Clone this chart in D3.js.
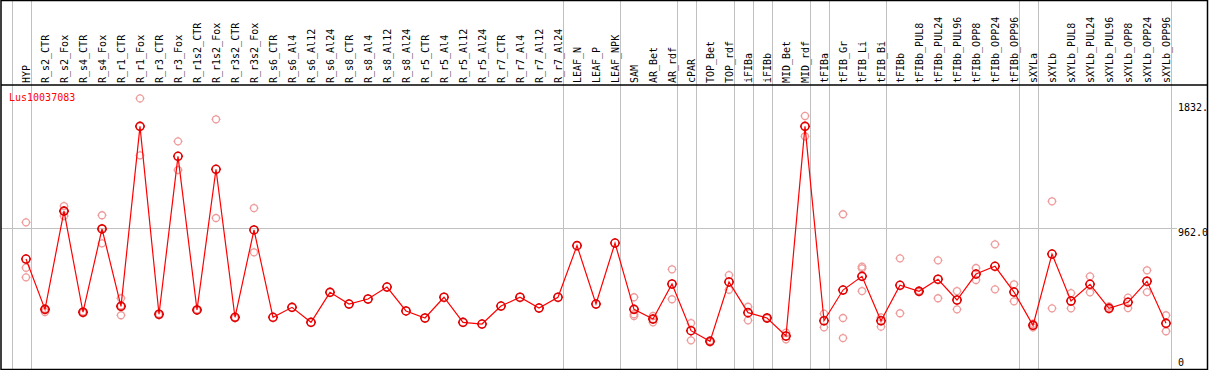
<!DOCTYPE html>
<html>
<head>
<meta charset="utf-8">
<script src="https://cdn.jsdelivr.net/npm/d3@7"></script>
<style>
  body { margin: 0; background: #fff; }
  svg { display: block; }
</style>
</head>
<body>
<div id="chart"></div>
<script>
// DATA
const geneId = "Lus10037083";

const samples = [
    "HYP", "R_s2_CTR", "R_s2_Fox", "R_s4_CTR", "R_s4_Fox", "R_r1_CTR", "R_r1_Fox",
    "R_r3_CTR", "R_r3_Fox", "R_r1s2_CTR", "R_r1s2_Fox", "R_r3s2_CTR", "R_r3s2_Fox",
    "R_s6_CTR", "R_s6_Al4", "R_s6_Al12", "R_s6_Al24", "R_s8_CTR", "R_s8_Al4", "R_s8_Al12",
    "R_s8_Al24", "R_r5_CTR", "R_r5_Al4", "R_r5_Al12", "R_r5_Al24", "R_r7_CTR", "R_r7_Al4",
    "R_r7_Al12", "R_r7_Al24", "LEAF_N", "LEAF_P", "LEAF_NPK", "SAM", "AR_Bet", "AR_rdf",
    "cPAR", "TOP_Bet", "TOP_rdf", "iFIBa", "iFIBb", "MID_Bet", "MID_rdf", "tFIBa",
    "tFIB_Gr", "tFIB_Li", "tFIB_Bi", "tFIBb", "tFIBb_PUL8", "tFIBb_PUL24", "tFIBb_PUL96",
    "tFIBb_OPP8", "tFIBb_OPP24", "tFIBb_OPP96", "sXYLa", "sXYLb", "sXYLb_PUL8",
    "sXYLb_PUL24", "sXYLb_PUL96", "sXYLb_OPP8", "sXYLb_OPP24", "sXYLb_OPP96"
];

const means = [
    749, 400, 1082, 380, 958, 421, 1670, 366, 1462, 396, 1372, 345, 951,
    345, 414, 310, 518, 437, 472, 555, 389, 340, 484, 310, 298, 423, 484, 409, 484,
    842, 437, 860, 400, 333, 576, 252, 178, 590, 377, 340, 215, 1670, 321,
    534, 629, 321, 567, 525, 609, 465, 645, 699, 520, 289, 784, 458, 574, 407, 449, 595, 303
];

const replicates = [
    [1004, 689, 622], [405, 395, 382], [1117, 1082, 1048], [375, 385, 380], [1053, 963, 858],
    [477, 427, 359], [1864, 1469], [360, 370], [1566, 1367], [400, 392], [1719, 1034],
    [345, 340], [1103, 796],
    [], [], [], [], [], [], [], [], [], [], [], [], [], [], [], [], [], [], [],
    [484, 366, 354], [354, 310, 333], [678, 470], [305, 185], [172, 182], [638, 536],
    [418, 324], [342, 338], [238, 192], [1742, 1601], [370, 275], [1060, 340, 201],
    [696, 684, 527], [344, 280], [754, 373], [530, 520], [740, 477], [527, 400],
    [687, 604], [851, 539], [574, 456], [300, 275], [1150, 407], [513, 407], [629, 518],
    [420, 400], [481, 409], [671, 520], [359, 248]
];

// grid separators are drawn after these sample indices (-1 = before the first)
const groupBreaks = [-1, 0, 28, 31, 34, 35, 37, 38, 39, 41, 42, 45, 52, 53, 60];

const yTicks = [0, 962.0, 1832.0];
const yTickLabels = ["0", "962.0", "1832."];
const gridValues = [962.0];

// DRAWING SETUP
const width = 1209, height = 370;
const headerBottom = 85;
const frameRight = 1207.5, frameBottom = 369.5;

const x = d3.scalePoint()
    .domain(samples)
    .range([26, 1166]);
const step = x.step();

const y = d3.scaleLinear()
    .domain([0, 1832])
    .range([367, 103]);

const svg = d3.select("#chart").append("svg")
    .attr("width", width)
    .attr("height", height)
    .attr("font-family", "'DejaVu Sans Mono', monospace")
    .attr("font-size", 10);

svg.append("defs").append("clipPath")
    .attr("id", "frame-clip")
    .append("rect")
    .attr("x", 0).attr("y", 0)
    .attr("width", frameRight).attr("height", frameBottom);

const root = svg.append("g").attr("clip-path", "url(#frame-clip)");

// vertical group separators
root.selectAll(".vgrid")
    .data(groupBreaks)
    .enter().append("line")
    .attr("class", "vgrid")
    .attr("x1", d => Math.round((d < 0 ? x(samples[0]) - step : x(samples[d])) + 4.5) + 0.5)
    .attr("x2", d => Math.round((d < 0 ? x(samples[0]) - step : x(samples[d])) + 4.5) + 0.5)
    .attr("y1", 0)
    .attr("y2", frameBottom)
    .style("stroke", "#c0c0c0")
    .style("stroke-width", 1);

// horizontal grid
root.selectAll(".hgrid")
    .data(gridValues)
    .enter().append("line")
    .attr("class", "hgrid")
    .attr("x1", 1)
    .attr("x2", 1177)
    .attr("y1", d => Math.round(y(d)) + 0.5)
    .attr("y2", d => Math.round(y(d)) + 0.5)
    .style("stroke", "#c0c0c0")
    .style("stroke-width", 1);

// column labels (rotated)
root.selectAll(".col-label")
    .data(samples)
    .enter().append("text")
    .attr("class", "col-label")
    .attr("transform", d => `translate(${x(d) + 3.5}, 83) rotate(-90)`)
    .attr("text-anchor", "start")
    .style("fill", "#000")
    .text(d => d);

// y labels on the right
root.selectAll(".y-label")
    .data(yTicks)
    .enter().append("text")
    .attr("class", "y-label")
    .attr("x", 1178)
    .attr("y", d => Math.min(y(d) + 7.5, 366))
    .style("fill", "#000")
    .text((d, i) => yTickLabels[i]);

// title
root.append("text")
    .attr("x", 9)
    .attr("y", 101)
    .style("fill", "#ff0000")
    .text(geneId);

// marker: circle with little nubs
function marker(r) {
    return `M${-r},0 A${r},${r} 0 1,0 ${r},0 A${r},${r} 0 1,0 ${-r},0 ` +
        `M0,${-r - 1} V${-r + 0.5} M0,${r - 0.5} V${r + 1} ` +
        `M${-r - 1},0 H${-r + 0.5} M${r - 0.5},0 H${r + 1}`;
}

// replicate points
const repPoints = [];
replicates.forEach((vals, i) => {
    vals.forEach(v => repPoints.push({sample: samples[i], value: v}));
});

root.selectAll(".rep")
    .data(repPoints)
    .enter().append("path")
    .attr("class", "rep")
    .attr("transform", d => `translate(${x(d.sample)}, ${y(d.value)})`)
    .attr("d", marker(3.5))
    .style("fill", "none")
    .style("stroke", "#ee9a9a")
    .style("stroke-width", 1.3);

// mean line
const line = d3.line()
    .x((d, i) => x(samples[i]))
    .y(d => y(d));

root.append("path")
    .datum(means)
    .attr("d", line)
    .style("fill", "none")
    .style("stroke", "#ff0000")
    .style("stroke-width", 1.2);

root.selectAll(".mean")
    .data(means)
    .enter().append("path")
    .attr("class", "mean")
    .attr("transform", (d, i) => `translate(${x(samples[i])}, ${y(d)})`)
    .attr("d", marker(4))
    .style("fill", "none")
    .style("stroke", "#e00000")
    .style("stroke-width", 1.6);

// frame
svg.append("rect")
    .attr("x", 1).attr("y", 0.5)
    .attr("width", frameRight - 1).attr("height", frameBottom - 0.5)
    .style("fill", "none")
    .style("stroke", "#000")
    .style("stroke-width", 1.5);

svg.append("line")
    .attr("x1", 1).attr("x2", frameRight)
    .attr("y1", headerBottom).attr("y2", headerBottom)
    .style("stroke", "#000")
    .style("stroke-width", 1.5);
</script>
</body>
</html>
